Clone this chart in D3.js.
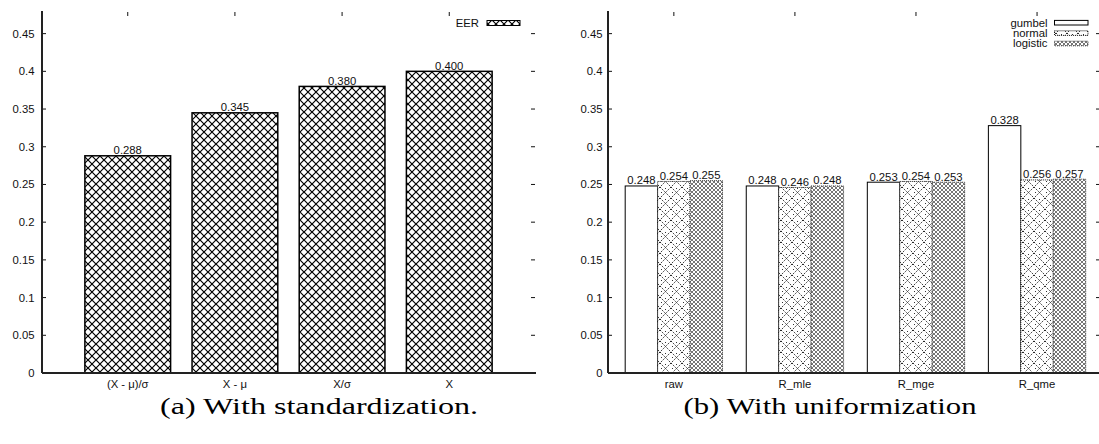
<!DOCTYPE html>
<html><head><meta charset="utf-8">
<script src="https://cdn.jsdelivr.net/npm/d3@7"></script>
<style>body{margin:0;background:#fff}svg{display:block}</style>
</head><body>
<svg id="c" width="1099" height="444"></svg>
<script>
const catsA = ["(X - μ)/σ", "X - μ", "X/σ", "X"];
const eer = [0.288, 0.345, 0.380, 0.400];
const catsB = ["raw", "R_mle", "R_mge", "R_qme"];
const gumbel = [0.248, 0.248, 0.253, 0.328];
const normal = [0.254, 0.246, 0.254, 0.256];
const logistic = [0.255, 0.248, 0.253, 0.257];
const seriesNames = ["gumbel", "normal", "logistic"];
const yTicks = [0, 0.05, 0.1, 0.15, 0.2, 0.25, 0.3, 0.35, 0.4, 0.45];
const captions = ["(a) With standardization.", "(b) With uniformization"];

const svg = d3.select("#c");
const FONT = "'Liberation Sans', Arial, Helvetica, sans-serif";
const defs = svg.append("defs");

// patterns
const pX = defs.append("pattern").attr("id","pX").attr("patternUnits","userSpaceOnUse").attr("width",8).attr("height",8);
pX.append("rect").attr("width",8).attr("height",8).attr("fill","#fff");
pX.append("path").attr("d","M-1,-1L9,9M9,-1L-1,9").attr("stroke","#000").attr("stroke-width",1.2);

const pN = defs.append("pattern").attr("id","pN").attr("patternUnits","userSpaceOnUse").attr("width",11).attr("height",11);
pN.append("rect").attr("width",11).attr("height",11).attr("fill","#fff");
pN.append("path").attr("d","M0,0L11,11M11,0L0,11").attr("stroke","#111").attr("stroke-width",1).attr("stroke-dasharray","1.3 1.3");
pN.append("rect").attr("x",5).attr("y",1).attr("width",1).attr("height",1).attr("fill","#333");
pN.append("rect").attr("x",1).attr("y",5).attr("width",1).attr("height",1).attr("fill","#333");

const pL = defs.append("pattern").attr("id","pL").attr("patternUnits","userSpaceOnUse").attr("width",4).attr("height",4);
pL.append("rect").attr("width",4).attr("height",4).attr("fill","#fff");
pL.append("path").attr("d","M-1,-1L5,5M5,-1L-1,5").attr("stroke","#666").attr("stroke-width",0.9);

const y = d3.scaleLinear().domain([0, 0.48]).range([373, 11]);

function fmt(v){ return String(+v.toFixed(2)); }

function panel(x0, x1, xScale, cats, labelEnd) {
  const g = svg.append("g");
  // y tick labels
  g.selectAll("text.yt").data(yTicks).join("text")
    .attr("x", labelEnd).attr("y", d => y(d)).attr("dy", "0.35em")
    .attr("text-anchor","end").attr("font-family",FONT).attr("font-size","11.3px").attr("fill","#111")
    .text(fmt);
  // left ticks (inward) and right mirror ticks
  g.selectAll("line.lt").data(yTicks.slice(1)).join("line")
    .attr("x1", x0).attr("x2", x0+4).attr("y1", d=>y(d)).attr("y2", d=>y(d)).attr("stroke","#111");
  g.selectAll("line.rt").data(yTicks.slice(1)).join("line")
    .attr("x1", x1-4).attr("x2", x1).attr("y1", d=>y(d)).attr("y2", d=>y(d)).attr("stroke","#111");
  // top mirror x ticks
  g.selectAll("line.tt").data(cats).join("line")
    .attr("x1", (d,i)=>xScale(i)).attr("x2", (d,i)=>xScale(i)).attr("y1", y(0.48)+1).attr("y2", y(0.48)+5).attr("stroke","#111");
  // x labels
  g.selectAll("text.xl").data(cats).join("text")
    .attr("x", (d,i)=>xScale(i)).attr("y", 388)
    .attr("text-anchor","middle").attr("font-family",FONT).attr("font-size","11.3px").attr("fill","#111")
    .text(d=>d);
  return g;
}

// ---------- Panel A ----------
const xA = d3.scaleLinear().domain([-0.8, 3.8]).range([42, 535]);
const gA = panel(42, 535, xA, catsA, 34.5);
const bwA = xA(0.8) - xA(0);
gA.selectAll("rect.bar").data(eer).join("rect")
  .attr("x", (d,i)=>xA(i)-bwA/2).attr("width", bwA)
  .attr("y", d=>y(d)).attr("height", d=>y(0)-y(d))
  .attr("fill","url(#pX)").attr("stroke","#000").attr("stroke-width",1.5);
gA.selectAll("text.vl").data(eer).join("text")
  .attr("x",(d,i)=>xA(i)).attr("y", d=>y(d)-1.5)
  .attr("text-anchor","middle").attr("font-family",FONT).attr("font-size","11.3px").attr("fill","#111")
  .text(d=>d.toFixed(3));
// axes lines
gA.append("line").attr("x1",42).attr("x2",42).attr("y1",y(0.48)).attr("y2",y(0)).attr("stroke","#222").attr("stroke-width",2);
gA.append("line").attr("x1",42).attr("x2",536).attr("y1",y(0)).attr("y2",y(0)).attr("stroke","#222").attr("stroke-width",1.8);
// legend
gA.append("text").attr("x",479).attr("y",22.7).attr("dy","0.35em").attr("text-anchor","end")
  .attr("font-family",FONT).attr("font-size","11.3px").attr("fill","#111").text("EER");
gA.append("rect").attr("x",487).attr("y",20.5).attr("width",33).attr("height",5)
  .attr("fill","url(#pX)").attr("stroke","#000").attr("stroke-width",1);

// ---------- Panel B ----------
const xB = d3.scaleLinear().domain([-0.544, 3.52]).range([608, 1100]);
const gB = panel(608, 1100, xB, catsB, 602.5);
const bwB = xB(0.268) - xB(0);
const series = [gumbel, normal, logistic];
const fills = ["#fff", "url(#pN)", "url(#pL)"];
const strokes = [{c:"#000", d:null}, {c:"#111", d:"1 1"}, {c:"#333", d:"1 1"}];
series.forEach((vals, s) => {
  gB.selectAll("rect.b"+s).data(vals).join("rect")
    .attr("x",(d,i)=>xB(i)+(s-1)*bwB-bwB/2).attr("width",bwB)
    .attr("y",d=>y(d)).attr("height",d=>y(0)-y(d))
    .attr("fill",fills[s]).attr("stroke",strokes[s].c).attr("stroke-width",1)
    .attr("stroke-dasharray",strokes[s].d);
});
series.forEach((vals, s) => {
  gB.selectAll("text.v"+s).data(vals).join("text")
    .attr("x",(d,i)=>xB(i)+(s-1)*bwB).attr("y",d=>y(d)-1.5)
    .attr("text-anchor","middle").attr("font-family",FONT).attr("font-size","11.3px").attr("fill","#111")
    .text(d=>d.toFixed(3));
});
gB.append("line").attr("x1",608).attr("x2",608).attr("y1",y(0.48)).attr("y2",y(0)).attr("stroke","#222").attr("stroke-width",2);
gB.append("line").attr("x1",608).attr("x2",1100).attr("y1",y(0)).attr("y2",y(0)).attr("stroke","#222").attr("stroke-width",1.8);
// legend
seriesNames.forEach((n, s) => {
  const yy = 22.7 + s*10.4;
  gB.append("text").attr("x",1047.5).attr("y",yy).attr("dy","0.35em").attr("text-anchor","end")
    .attr("font-family",FONT).attr("font-size","11.3px").attr("fill","#111").text(n);
  gB.append("rect").attr("x",1054.5).attr("y",yy-2.3).attr("width",33.5).attr("height",4.6)
    .attr("fill",fills[s]).attr("stroke",strokes[s].c).attr("stroke-width",1).attr("stroke-dasharray",strokes[s].d);
});

// captions
const capX = [319, 830];
captions.forEach((t,i)=>{
  const tx = svg.append("text").attr("x",capX[i]).attr("y",413.5).attr("text-anchor","middle")
    .attr("font-family","'Liberation Serif','Times New Roman',serif").attr("font-size","24px").attr("fill","#000")
    .text(t);
  const target = i===0 ? 318 : 293;
  const w = tx.node().getComputedTextLength();
  if (Math.abs(w-target) > 2) tx.attr("textLength", target).attr("lengthAdjust","spacingAndGlyphs");
});
</script>
</body></html>
